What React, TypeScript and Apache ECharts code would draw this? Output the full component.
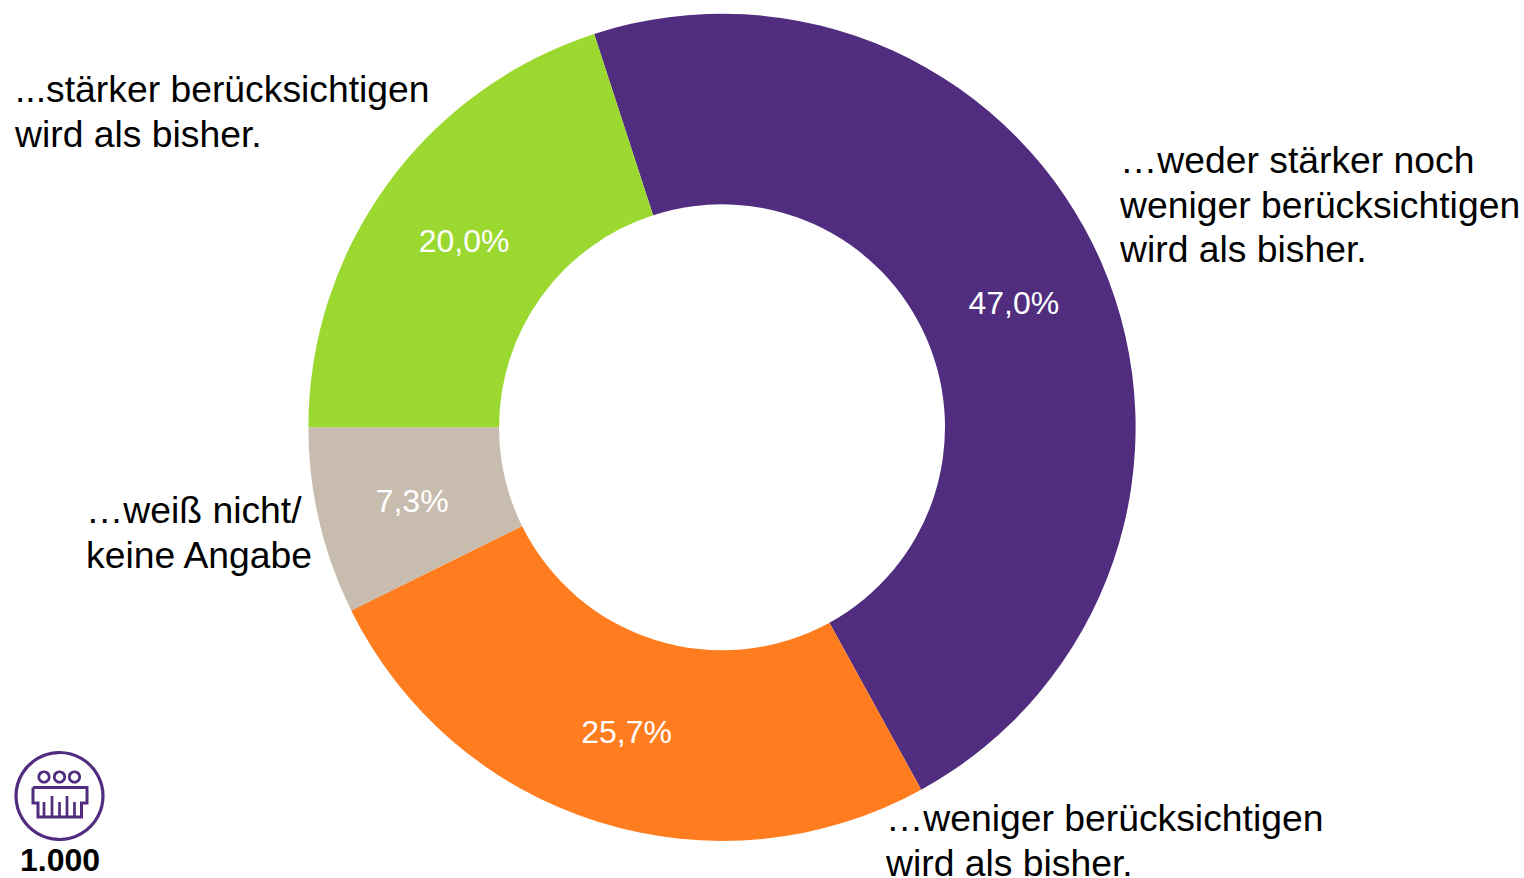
import React, { useEffect, useRef } from "react";
import * as echarts from "echarts";

const categories = [
  "…weder stärker noch\nweniger berücksichtigen\nwird als bisher.",
  "…weniger berücksichtigen\nwird als bisher.",
  "…weiß nicht/\nkeine Angabe",
  "...stärker berücksichtigen\nwird als bisher.",
];
const values = [47.0, 25.7, 7.3, 20.0];
const colors = ["#502D7F", "#FF7C1F", "#C7BCAD", "#9BD931"];
const sampleSize = "1.000";
const FONT = '"Liberation Sans", Arial, sans-serif';
const PURPLE = "#502D7F";

const labelPositions = [
  [1120, 138],
  [886, 796],
  [86, 488],
  [15, 67],
];
const valueLabelOffsets = [
  [-3, 3],
  [1, -2],
  [3, 1],
  [2, 3],
];

export default function App() {
  const ref = useRef<HTMLDivElement>(null);
  useEffect(() => {
    const chart = echarts.init(ref.current!, null, { renderer: "svg" });
    const icon = (shape: any) => ({ type: "line", shape, style: { stroke: PURPLE, lineWidth: 2.7, fill: "none" } });
    chart.setOption({
      animation: false,
      series: [
        {
          type: "pie",
          center: [722, 427.3],
          radius: [223, 413.6],
          startAngle: 108,
          clockwise: true,
          silent: true,
          data: values.map((v, i) => ({
            value: v,
            name: categories[i],
            itemStyle: { color: colors[i] },
            label: { offset: valueLabelOffsets[i] },
          })),
          label: {
            show: true,
            position: "inside",
            formatter: (p: any) => p.value.toFixed(1).replace(".", ",") + "%",
            color: "#fff",
            fontFamily: FONT,
            fontSize: 32,
          },
          labelLine: { show: false },
        },
      ],
      graphic: [
        ...categories.map((c, i) => ({
          type: "text",
          x: labelPositions[i][0],
          y: labelPositions[i][1],
          style: { text: c, font: `37.3px ${FONT}`, lineHeight: 44.5, fill: "#000" },
        })),
        { type: "circle", shape: { cx: 59.5, cy: 796, r: 43.5 }, style: { stroke: PURPLE, lineWidth: 3.2, fill: "none" } },
        { type: "circle", shape: { cx: 44, cy: 777, r: 5.2 }, style: { stroke: PURPLE, lineWidth: 2.7, fill: "none" } },
        { type: "circle", shape: { cx: 59.5, cy: 777, r: 5.2 }, style: { stroke: PURPLE, lineWidth: 2.7, fill: "none" } },
        { type: "circle", shape: { cx: 74.5, cy: 777, r: 5.2 }, style: { stroke: PURPLE, lineWidth: 2.7, fill: "none" } },
        {
          type: "polyline",
          shape: { points: [[33, 787.5], [87, 787.5], [87, 803], [81.5, 803], [81.5, 817], [38, 817], [38, 803], [33, 803], [33, 787.5]] },
          style: { stroke: PURPLE, lineWidth: 3, fill: "none" },
        },
        ...[44, 52, 59.5, 67, 74.5].map((x, i) =>
          icon({ x1: x, y1: i % 2 === 0 ? 802 : 796, x2: x, y2: 817 })
        ),
        {
          type: "text",
          x: 60,
          y: 844,
          style: { text: sampleSize, font: `bold 32px ${FONT}`, fill: "#000", textAlign: "center" },
        },
      ],
    });
    return () => chart.dispose();
  }, []);
  return (
    <div
      ref={ref}
      style={{ position: "absolute", left: 0, top: 0, width: 1524, height: 878, background: "#fff" }}
    />
  );
}
